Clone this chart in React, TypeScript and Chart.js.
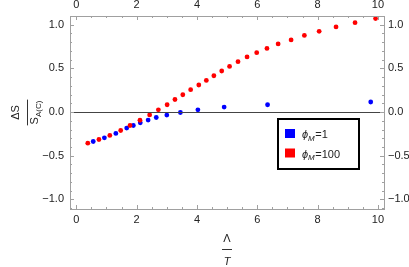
import React, { useEffect, useRef } from "react";
import { Chart, registerables } from "chart.js";

Chart.register(...registerables);

const blueX = [0.56, 0.93, 1.31, 1.67, 1.89, 2.12, 2.38, 2.65, 3.0, 3.45, 4.03, 4.9, 6.34, 9.76];
const blueY = [-0.337, -0.295, -0.245, -0.183, -0.154, -0.123, -0.092, -0.062, -0.034, -0.005, 0.026, 0.057, 0.084, 0.115];
const redX = [0.38, 0.75, 1.11, 1.47, 1.78, 2.11, 2.43, 2.72, 3.01, 3.27, 3.53, 3.79, 4.06, 4.31, 4.56, 4.82, 5.08, 5.36, 5.66, 5.98, 6.32, 6.69, 7.12, 7.56, 8.05, 8.61, 9.24, 9.92];
const redY = [-0.356, -0.314, -0.268, -0.211, -0.154, -0.094, -0.033, 0.026, 0.084, 0.144, 0.198, 0.256, 0.31, 0.362, 0.416, 0.47, 0.523, 0.577, 0.631, 0.68, 0.729, 0.78, 0.826, 0.878, 0.924, 0.975, 1.024, 1.07];
const xTicks = [0, 2, 4, 6, 8, 10];
const yTicks = [-1, -0.5, 0, 0.5, 1];
const legendLabels = ["1", "100"];

const FONT = '"Liberation Sans", Arial, sans-serif';
const TEXT = "#222222";
const FRAME = "#a0a0a0";

const fmtY = (v: number) => (v < 0 ? "\u2212" : "") + Math.abs(v).toFixed(1);

const framePlugin = {
  id: "framePlugin",
  afterDraw(chart: any) {
    const ctx = chart.ctx as CanvasRenderingContext2D;
    const a = chart.chartArea;
    const xs = chart.scales.x;
    const ys = chart.scales.y;
    ctx.save();
    // zero line
    ctx.strokeStyle = "#444444";
    ctx.lineWidth = 1;
    const y0 = Math.round(ys.getPixelForValue(0)) + 0.5;
    ctx.beginPath();
    ctx.moveTo(a.left, y0);
    ctx.lineTo(a.right, y0);
    ctx.stroke();
    // frame
    ctx.strokeStyle = FRAME;
    ctx.lineWidth = 1;
    ctx.strokeRect(Math.round(a.left) + 0.5, Math.round(a.top) + 0.5, Math.round(a.right - a.left), Math.round(a.bottom - a.top));
    // x ticks
    for (let i = 0; i <= 20; i++) {
      const v = i * 0.5;
      const len = i % 4 === 0 ? 4 : 2;
      const px = Math.round(xs.getPixelForValue(v)) + 0.5;
      ctx.beginPath();
      ctx.moveTo(px, a.bottom);
      ctx.lineTo(px, a.bottom - len);
      ctx.moveTo(px, a.top);
      ctx.lineTo(px, a.top + len);
      ctx.stroke();
    }
    // y ticks
    for (let i = -11; i <= 11; i++) {
      const v = i * 0.1;
      if (v < ys.min || v > ys.max) continue;
      const len = i % 5 === 0 ? 4 : 2;
      const py = Math.round(ys.getPixelForValue(v)) + 0.5;
      ctx.beginPath();
      ctx.moveTo(a.left, py);
      ctx.lineTo(a.left + len, py);
      ctx.moveTo(a.right, py);
      ctx.lineTo(a.right - len, py);
      ctx.stroke();
    }
    // x title: Λ / T
    const cx = (a.left + a.right) / 2;
    ctx.fillStyle = TEXT;
    ctx.textAlign = "center";
    ctx.textBaseline = "alphabetic";
    ctx.font = `11px ${FONT}`;
    ctx.fillText("\u039B", cx, a.bottom + 33);
    ctx.strokeStyle = "#333333";
    ctx.beginPath();
    ctx.moveTo(cx - 5, a.bottom + 40.5);
    ctx.lineTo(cx + 5, a.bottom + 40.5);
    ctx.stroke();
    ctx.font = `italic 11px ${FONT}`;
    ctx.fillText("T", cx, a.bottom + 56);

    // y title: ΔS / S_A(C), rotated
    const cy = (a.top + a.bottom) / 2;
    ctx.save();
    ctx.translate(27, cy);
    ctx.rotate(-Math.PI / 2);
    ctx.textAlign = "center";
    ctx.font = `11px ${FONT}`;
    ctx.fillText("\u0394S", 0, -8);
    ctx.font = `11px ${FONT}`;
    const wS = ctx.measureText("S").width;
    ctx.font = `8px ${FONT}`;
    const wSub = ctx.measureText("A(C)").width;
    const tot = wS + wSub;
    ctx.beginPath();
    ctx.moveTo(-tot / 2 - 1, 0.5);
    ctx.lineTo(tot / 2 + 1, 0.5);
    ctx.stroke();
    ctx.textAlign = "left";
    ctx.font = `11px ${FONT}`;
    ctx.fillText("S", -tot / 2, 11);
    ctx.font = `8px ${FONT}`;
    ctx.fillText("A(C)", -tot / 2 + wS, 13.5);
    ctx.restore();

    // legend
    const lx = 278, ly = 119, lw = 81, lh = 50;
    ctx.fillStyle = "#ffffff";
    ctx.fillRect(lx, ly, lw, lh);
    ctx.strokeStyle = "#000000";
    ctx.lineWidth = 2;
    ctx.strokeRect(lx, ly, lw, lh);
    const cols = ["#0000ff", "#ff0000"];
    for (let i = 0; i < 2; i++) {
      const ry = ly + 10 + i * 19.5;
      ctx.fillStyle = cols[i];
      ctx.fillRect(lx + 7, ry, 10, 9);
      ctx.fillStyle = TEXT;
      ctx.textAlign = "left";
      const bx = lx + 24;
      const by = ry + 9;
      ctx.font = `italic 11px ${FONT}`;
      ctx.fillText("\u03D5", bx, by);
      const w1 = ctx.measureText("\u03D5").width;
      ctx.font = `italic 8px ${FONT}`;
      ctx.fillText("M", bx + w1, by + 2.5);
      const w2 = ctx.measureText("M").width;
      ctx.font = `11px ${FONT}`;
      ctx.fillText("=" + legendLabels[i], bx + w1 + w2 + 0.5, by);
    }
    ctx.restore();
  },
};

export default function App() {
  const ref = useRef<HTMLCanvasElement>(null);
  useEffect(() => {
    document.body.style.margin = "0";
    const font = { family: FONT, size: 11 };
    const xBase = {
      type: "linear" as const,
      min: -0.21,
      max: 10.2,
      display: true,
      grid: { display: false, drawTicks: false },
      border: { display: false },
      afterBuildTicks: (s: any) => {
        s.ticks = xTicks.map((v) => ({ value: v }));
      },
    };
    const yBase = {
      type: "linear" as const,
      min: -1.11,
      max: 1.1,
      display: true,
      grid: { display: false, drawTicks: false },
      border: { display: false },
      afterBuildTicks: (s: any) => {
        s.ticks = yTicks.map((v) => ({ value: v }));
      },
    };
    const chart = new Chart(ref.current!, {
      type: "scatter",
      data: {
        datasets: [
          {
            label: "\u03D5M=1",
            data: blueX.map((x, i) => ({ x, y: blueY[i] })),
            backgroundColor: "#0000ff",
            borderColor: "#0000ff",
            pointRadius: 2.4,
            borderWidth: 0,
            order: 1,
          },
          {
            label: "\u03D5M=100",
            data: redX.map((x, i) => ({ x, y: redY[i] })),
            backgroundColor: "#ff0000",
            borderColor: "#ff0000",
            pointRadius: 2.4,
            borderWidth: 0,
            order: 0,
          },
        ],
      },
      options: {
        animation: false,
        responsive: true,
        maintainAspectRatio: false,
        layout: { padding: 0 },
        plugins: { legend: { display: false }, tooltip: { enabled: false } },
        scales: {
          x: {
            ...xBase,
            position: "bottom",
            ticks: { padding: 4, font, color: TEXT, callback: (v: any) => String(v) },
            afterFit: (s: any) => {
              s.height = 58;
            },
          },
          x2: {
            ...xBase,
            position: "top",
            ticks: { padding: 4, font, color: TEXT, callback: (v: any) => String(v) },
            afterFit: (s: any) => {
              s.height = 16;
            },
          },
          y: {
            ...yBase,
            position: "left",
            ticks: { padding: 6, font, color: TEXT, callback: (v: any) => fmtY(Number(v)) },
            afterFit: (s: any) => {
              s.width = 70;
            },
          },
          y2: {
            ...yBase,
            position: "right",
            ticks: { padding: 4, font, color: TEXT, callback: (v: any) => fmtY(Number(v)) },
            afterFit: (s: any) => {
              s.width = 25;
            },
          },
        },
      } as any,
      plugins: [framePlugin],
    });
    return () => chart.destroy();
  }, []);
  return (
    <div style={{ width: 409, height: 267, position: "relative" }}>
      <canvas ref={ref} />
    </div>
  );
}
